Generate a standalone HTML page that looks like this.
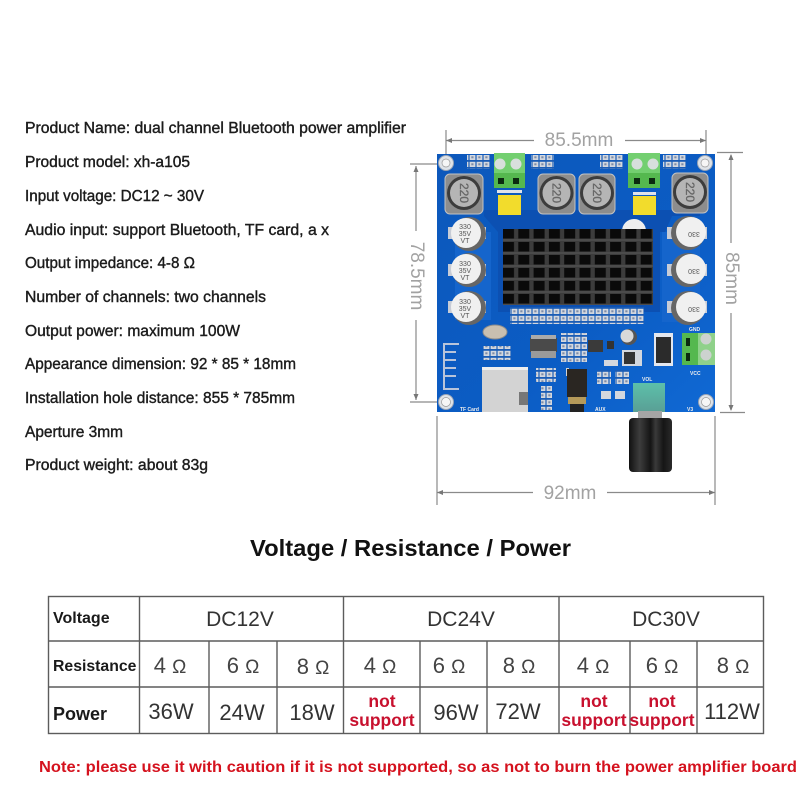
<!DOCTYPE html>
<html><head><meta charset="utf-8"><style>
html,body{margin:0;padding:0;background:#fff}
svg{display:block}
text{font-family:"Liberation Sans",sans-serif}
.sp{font-size:15.400px;fill:#1c1c1c;stroke:#1c1c1c;stroke-width:.4px}
.dim{font-size:19px;fill:#a2a2a2}
.dl{stroke:#8a8a8a;stroke-width:1.2;fill:none}
.tl{stroke:#5c5c5c;stroke-width:1.400;fill:none}
.v{font-size:21px;fill:#333;text-anchor:middle}
.o{font-size:22px;fill:#444;text-anchor:middle}
.o tspan{font-size:19px}
.w{font-size:22px;fill:#333;text-anchor:middle}
.ns{font-size:17.500px;font-weight:bold;fill:#c8102e;text-anchor:middle}
.lab{font-weight:bold;fill:#1a1a1a}
.sm{font-size:5px;fill:#eee;font-weight:bold}
.ind{font-size:12px;fill:#666;text-anchor:middle;stroke:#666;stroke-width:.3px}
.cp{font-size:7px;fill:#555;text-anchor:middle}
</style></head><body>
<svg width="800" height="800" viewBox="0 0 800 800" xmlns="http://www.w3.org/2000/svg">
<defs>
<linearGradient id="bd" x1="0" y1="0" x2="1" y2="1"><stop offset="0" stop-color="#0d58bb"/><stop offset=".6" stop-color="#0b5cc4"/><stop offset="1" stop-color="#1069d4"/></linearGradient>
<linearGradient id="kn" x1="0" y1="0" x2="1" y2="0"><stop offset="0" stop-color="#111"/><stop offset=".25" stop-color="#3d3d3d"/><stop offset=".5" stop-color="#141414"/><stop offset=".62" stop-color="#3a3a3a"/><stop offset=".8" stop-color="#151515"/><stop offset="1" stop-color="#2a2a2a"/></linearGradient>
<linearGradient id="pot" x1="0" y1="0" x2="0" y2="1"><stop offset="0" stop-color="#5cc0aa"/><stop offset="1" stop-color="#5a9f95"/></linearGradient>
<pattern id="pad" width="7" height="7" patternUnits="userSpaceOnUse"><rect width="7" height="7" fill="#1a5cb5"/><rect x=".6" y=".8" width="5.800" height="5.200" fill="#d3d7de"/><rect x="2.300" y="2.300" width="2.200" height="2" fill="#7d8ca8"/></pattern>
<pattern id="hs" x="503" y="229" width="15.300" height="13" patternUnits="userSpaceOnUse"><rect width="15.300" height="13" fill="#3c3c3c"/><rect x="0" y="0" width="11" height="9.500" fill="#0a0a0a"/><rect x="0" y="10.500" width="15.300" height="1" fill="#5a5a5a"/></pattern>
</defs>

<!-- spec text -->
<text class="sp" x="25" y="133" textLength="381" lengthAdjust="spacingAndGlyphs">Product Name: dual channel Bluetooth power amplifier</text>
<text class="sp" x="25" y="167" textLength="165" lengthAdjust="spacingAndGlyphs">Product model: xh-a105</text>
<text class="sp" x="25" y="201" textLength="179" lengthAdjust="spacingAndGlyphs">Input voltage: DC12 ~ 30V</text>
<text class="sp" x="25" y="235" textLength="304" lengthAdjust="spacingAndGlyphs">Audio input: support Bluetooth, TF card, a x</text>
<text class="sp" x="25" y="268" textLength="170" lengthAdjust="spacingAndGlyphs">Output impedance: 4-8 Ω</text>
<text class="sp" x="25" y="302" textLength="241" lengthAdjust="spacingAndGlyphs">Number of channels: two channels</text>
<text class="sp" x="25" y="336" textLength="215" lengthAdjust="spacingAndGlyphs">Output power: maximum 100W</text>
<text class="sp" x="25" y="369" textLength="271" lengthAdjust="spacingAndGlyphs">Appearance dimension: 92 * 85 * 18mm</text>
<text class="sp" x="25" y="403" textLength="270" lengthAdjust="spacingAndGlyphs">Installation hole distance: 855 * 785mm</text>
<text class="sp" x="25" y="437" textLength="98" lengthAdjust="spacingAndGlyphs">Aperture 3mm</text>
<text class="sp" x="25" y="470" textLength="183" lengthAdjust="spacingAndGlyphs">Product weight: about 83g</text>

<!-- dimensions -->
<g class="dl">
<path d="M446 130V158M706 130V158M446 140.500H534M625 140.500H706"/>
<path d="M410 164H446M416 166V231M416 320V400M410 402H446"/>
<path d="M717 152.500H743M720 412.500H745M731 155V243M731 313V410"/>
<path d="M437 416V505M715 416V505M437 492.500H533M607 492.500H715"/>
</g>
<g fill="#777">
<path d="M446 140.500l6-2.500v5zM706 140.500l-6-2.500v5zM416 166l-2.500 6h5zM416 400l-2.500-6h5zM731 154l-2.500 6h5zM731 411l-2.500-6h5zM437 492.500l6-2.500v5zM715 492.500l-6-2.500v5z"/>
</g>
<text class="dim" x="579" y="146" text-anchor="middle">85.5mm</text>
<text class="dim" x="570" y="499" text-anchor="middle">92mm</text>
<text class="dim" text-anchor="middle" transform="translate(411,276) rotate(90)">78.5mm</text>
<text class="dim" text-anchor="middle" transform="translate(726,278.500) rotate(90)">85mm</text>

<!-- board -->
<rect x="437" y="154" width="278" height="258" fill="url(#bd)"/>
<path d="M484 210H700V216H672L665 232H660V312H498V232L484 216Z" fill="#0c50b2"/>
<path d="M455 232H491V320H455ZM662 232H700V322H662Z" fill="#1565cc"/>
<g fill="#dfe3e8" stroke="#9aa5b5"><circle cx="446" cy="163" r="7.500"/><circle cx="705" cy="163" r="7.500"/><circle cx="446" cy="402" r="7.500"/><circle cx="706" cy="402" r="7.500"/></g>
<g fill="#f6f6f6" stroke="#9a9a9a" stroke-width=".7"><circle cx="446" cy="163" r="4"/><circle cx="705" cy="163" r="4"/><circle cx="446" cy="402" r="4.500"/><circle cx="706" cy="402" r="4.500"/></g>

<!-- top pads -->
<g fill="url(#pad)"><rect x="467" y="155" width="23" height="14"/><rect x="531" y="155" width="23" height="14"/><rect x="600" y="155" width="23" height="14"/><rect x="663" y="155" width="23" height="14"/></g>

<!-- terminals -->
<g>
<rect x="494" y="153" width="31" height="35" fill="#55b84f"/>
<rect x="494" y="153" width="31" height="20" fill="#73cf70"/>
<circle cx="500" cy="164" r="5.500" fill="#d8dfdc"/><circle cx="516" cy="164" r="5.500" fill="#d8dfdc"/>
<rect x="498" y="178" width="6" height="6" fill="#0b2a10"/><rect x="513" y="178" width="6" height="6" fill="#0b2a10"/>
<rect x="628" y="153" width="32" height="35" fill="#55b84f"/>
<rect x="628" y="153" width="32" height="20" fill="#73cf70"/>
<circle cx="637" cy="164" r="5.500" fill="#d8dfdc"/><circle cx="653" cy="164" r="5.500" fill="#d8dfdc"/>
<rect x="634" y="178" width="6" height="6" fill="#0b2a10"/><rect x="649" y="178" width="6" height="6" fill="#0b2a10"/>
<rect x="497" y="190" width="25" height="3" fill="#dfe3ea"/><rect x="633" y="192" width="23" height="3" fill="#dfe3ea"/>
</g>

<!-- inductors -->
<g>
<rect x="445" y="174" width="38" height="40" rx="5" fill="#8d8d8d" stroke="#c2c2c2"/><circle cx="464" cy="193" r="17" fill="#3d3d3d"/><circle cx="464" cy="193" r="14" fill="#b5b5b5"/><text class="ind" transform="translate(460,193) rotate(90)">220</text>
<rect x="538" y="174" width="37" height="40" rx="5" fill="#8d8d8d" stroke="#c2c2c2"/><circle cx="556.500" cy="193" r="17" fill="#3d3d3d"/><circle cx="556.500" cy="193" r="14" fill="#b5b5b5"/><text class="ind" transform="translate(552.500,193) rotate(90)">220</text>
<rect x="579" y="174" width="36" height="40" rx="5" fill="#8d8d8d" stroke="#c2c2c2"/><circle cx="597" cy="193" r="17" fill="#3d3d3d"/><circle cx="597" cy="193" r="14" fill="#b5b5b5"/><text class="ind" transform="translate(593,193) rotate(90)">220</text>
<rect x="672" y="173" width="36" height="40" rx="5" fill="#8d8d8d" stroke="#c2c2c2"/><circle cx="690" cy="192" r="17" fill="#3d3d3d"/><circle cx="690" cy="192" r="14" fill="#b5b5b5"/><text class="ind" transform="translate(686,192) rotate(90)">220</text>
</g>

<!-- yellow caps -->
<rect x="498" y="195" width="23" height="20" fill="#f2dc2c"/><rect x="633" y="196" width="23" height="19" fill="#f2dc2c"/>

<!-- electrolytics -->
<g>
<g fill="#c7ccd6"><rect x="448" y="227" width="38" height="12"/><rect x="448" y="264" width="38" height="12"/><rect x="448" y="301" width="38" height="12"/><rect x="667" y="227" width="40" height="12"/><rect x="667" y="264" width="40" height="12"/><rect x="667" y="301" width="40" height="12"/></g>
<g fill="#666"><circle cx="469" cy="234" r="17"/><circle cx="469" cy="270" r="17"/><circle cx="469" cy="308" r="17"/><circle cx="688" cy="233" r="17"/><circle cx="688" cy="270" r="17"/><circle cx="688" cy="308" r="17"/></g>
<g fill="#f0f0f0"><circle cx="466" cy="233" r="15"/><circle cx="466" cy="269" r="15"/><circle cx="466" cy="307" r="15"/><circle cx="691" cy="232" r="15"/><circle cx="691" cy="269" r="15"/><circle cx="691" cy="307" r="15"/></g>
<text class="cp" x="465" y="229">330</text><text class="cp" x="465" y="236">35V</text><text class="cp" x="465" y="243">VT</text>
<text class="cp" x="465" y="266">330</text><text class="cp" x="465" y="273">35V</text><text class="cp" x="465" y="280">VT</text>
<text class="cp" x="465" y="304">330</text><text class="cp" x="465" y="311">35V</text><text class="cp" x="465" y="318">VT</text>
<text class="cp" transform="translate(694,232) rotate(180)">330</text>
<text class="cp" transform="translate(694,269) rotate(180)">330</text>
<text class="cp" transform="translate(694,307) rotate(180)">330</text>
</g>

<!-- heatsink -->
<circle cx="634" cy="231" r="12" fill="#eee"/>
<rect x="503" y="229" width="150" height="76" fill="url(#hs)"/>

<!-- pad rows -->
<rect x="510" y="307" width="134" height="17" fill="url(#pad)"/>

<!-- lower left: crystal, antenna, TF -->
<ellipse cx="495" cy="332" rx="12" ry="7" fill="#c9bfb0" stroke="#8c8c8c"/>
<path d="M459 344H444V389H459M444 352H456M444 360H456M444 368H456M444 376H456" fill="none" stroke="#b8c4da" stroke-width="2"/>
<rect x="483" y="346" width="28" height="14" fill="url(#pad)"/>
<rect x="482" y="367" width="46" height="45" fill="#d3d3d3"/>
<rect x="482" y="367" width="46" height="3" fill="#eee"/>
<rect x="519" y="392" width="9" height="13" fill="#777"/>
<text class="sm" x="460" y="411">TF Card</text>

<!-- central chips -->
<rect x="530" y="338" width="27" height="14" fill="#4a4a4a"/><rect x="531" y="335" width="25" height="4" fill="#aaa"/><rect x="531" y="351" width="25" height="7" fill="#9a9a9a"/>
<rect x="561" y="333" width="26" height="27" fill="url(#pad)"/>
<rect x="561" y="349" width="26" height="13" fill="url(#pad)"/>
<rect x="588" y="340" width="15" height="12" fill="#3a3a3a"/>
<rect x="536" y="368" width="20" height="14" fill="url(#pad)"/>
<rect x="541" y="386" width="11" height="24" fill="url(#pad)"/>
<rect x="597" y="370" width="14" height="14" fill="url(#pad)"/><rect x="615" y="370" width="14" height="14" fill="url(#pad)"/>
<rect x="601" y="391" width="10" height="8" fill="#d3d7de"/><rect x="615" y="391" width="10" height="8" fill="#d3d7de"/>
<rect x="604" y="360" width="14" height="6" fill="#d3d7de"/>
<rect x="607" y="341" width="7" height="8" fill="#333"/>
<!-- jack -->
<rect x="566" y="368" width="3" height="8" fill="#d3d3d3"/>
<rect x="567" y="369" width="20" height="28" fill="#2a2622"/>
<rect x="568" y="397" width="18" height="7" fill="#b59a5a"/>
<rect x="570" y="404" width="14" height="8" fill="#222"/>
<text class="sm" x="595" y="411">AUX</text>
<!-- small cap -->
<circle cx="629" cy="337" r="8" fill="#555"/><circle cx="627" cy="336" r="6.500" fill="#d9d9d9"/>
<rect x="622" y="350" width="20" height="16" fill="#d3d7de"/><rect x="624" y="352" width="11" height="12" fill="#333"/>
<!-- diode -->
<rect x="654" y="333" width="19" height="33" fill="#e4e7ee"/><rect x="656" y="337" width="15" height="26" fill="#2b2b2b"/>
<!-- right terminal -->
<rect x="682" y="333" width="33" height="32" fill="#55b84f"/>
<rect x="698" y="333" width="17" height="32" fill="#8fd18a"/>
<circle cx="706" cy="339" r="5.500" fill="#ccd2cf"/><circle cx="706" cy="355" r="5.500" fill="#ccd2cf"/>
<rect x="686" y="338" width="4" height="8" fill="#0b2a10"/><rect x="686" y="353" width="4" height="8" fill="#0b2a10"/>
<text class="sm" x="689" y="331">GND</text><text class="sm" x="690" y="375">VCC</text>
<text class="sm" x="642" y="381" font-size="6">VOL</text>
<text class="sm" x="687" y="411">V3</text>
<!-- pot -->
<rect x="633" y="383" width="32" height="29" fill="url(#pot)"/>
<rect x="638" y="411" width="24" height="7" fill="#a5a5a5"/>
<rect x="629" y="418" width="43" height="54" rx="4" fill="url(#kn)"/>

<!-- title -->
<text x="410.500" y="556" font-size="23.500" font-weight="bold" fill="#111" text-anchor="middle" textLength="321" lengthAdjust="spacingAndGlyphs">Voltage / Resistance / Power</text>

<!-- table -->
<rect x="48.500" y="596.500" width="715" height="137" class="tl"/>
<path class="tl" d="M48 641H764M48 687H764M139.500 596V734M343.500 596V734M559 596V734M209 641V734M277 641V734M420 641V734M487 641V734M630 641V734M697 641V734"/>

<text class="lab" x="53" y="623" font-size="16">Voltage</text>
<text class="lab" x="53" y="671" font-size="15.800">Resistance</text>
<text class="lab" x="53" y="720" font-size="18">Power</text>

<text class="v" x="240" y="626">DC12V</text>
<text class="v" x="461" y="626">DC24V</text>
<text class="v" x="666" y="626">DC30V</text>

<text class="o" x="170" y="673">4 <tspan>Ω</tspan></text>
<text class="o" x="243" y="673">6 <tspan>Ω</tspan></text>
<text class="o" x="313" y="674">8 <tspan>Ω</tspan></text>
<text class="o" x="380" y="673">4 <tspan>Ω</tspan></text>
<text class="o" x="449" y="673">6 <tspan>Ω</tspan></text>
<text class="o" x="519" y="673">8 <tspan>Ω</tspan></text>
<text class="o" x="593" y="673">4 <tspan>Ω</tspan></text>
<text class="o" x="662" y="673">6 <tspan>Ω</tspan></text>
<text class="o" x="733" y="673">8 <tspan>Ω</tspan></text>

<text class="w" x="171" y="719">36W</text>
<text class="w" x="242" y="720">24W</text>
<text class="w" x="312" y="720">18W</text>
<text class="w" x="456" y="720">96W</text>
<text class="w" x="518" y="719">72W</text>
<text class="w" x="732" y="719">112W</text>

<text class="ns" x="382" y="707">not</text><text class="ns" x="382" y="726">support</text>
<text class="ns" x="594" y="707">not</text><text class="ns" x="594" y="726">support</text>
<text class="ns" x="662" y="707">not</text><text class="ns" x="662" y="726">support</text>

<!-- note -->
<text x="39" y="772" font-size="16" font-weight="bold" fill="#d5121e" textLength="758" lengthAdjust="spacingAndGlyphs">Note: please use it with caution if it is not supported, so as not to burn the power amplifier board</text>
</svg>
</body></html>
